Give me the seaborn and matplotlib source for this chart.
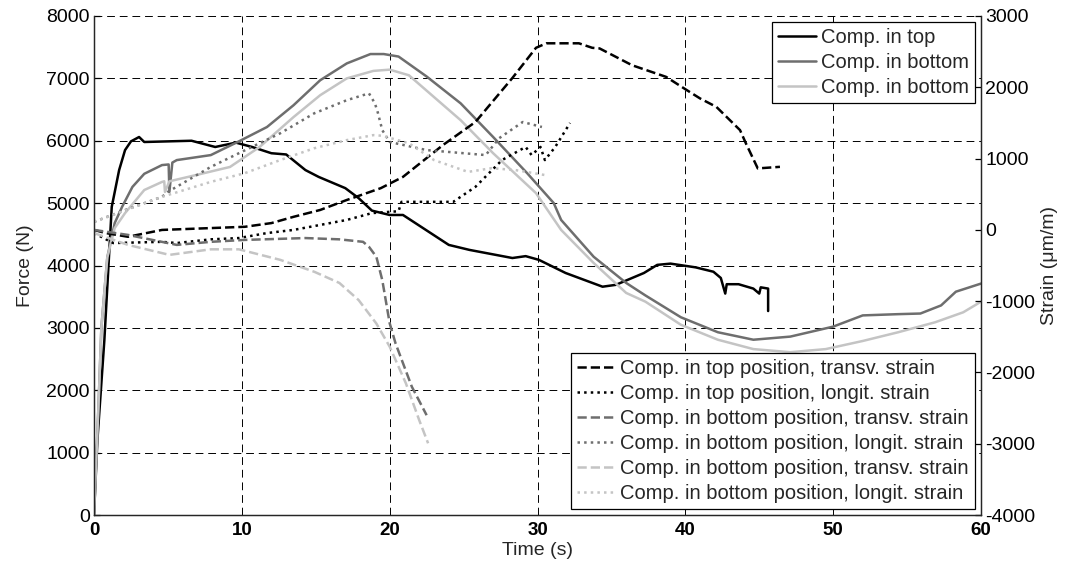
import matplotlib
matplotlib.use("Agg")
import matplotlib.pyplot as plt
import seaborn as sns

# Force curves (left axis, N)
t_top = [0, 0.23, 0.7, 1.2, 1.7, 2.1, 2.5, 3.05, 3.4, 5, 6.6, 8.2, 9.6, 10.7, 12, 13, 14.3, 15.2, 17,
         17.9, 18.8, 20, 20.9, 24, 25.4, 28.3, 29.2, 30.1, 31.9, 34.4, 35.3, 37.2, 38.1, 39, 40.7, 41.9,
         42.4, 42.7, 42.8, 43.6, 44.6, 45, 45.1, 45.6, 45.6]
force_top = [0, 1200, 2800, 4940, 5530, 5850, 5990, 6060, 5980, 5990, 6000, 5900, 5970, 5900, 5800, 5780,
             5530, 5420, 5240, 5080, 4880, 4810, 4810, 4330, 4250, 4120, 4150, 4090, 3880, 3660, 3690, 3880,
             4010, 4030, 3970, 3900, 3800, 3550, 3700, 3700, 3630, 3550, 3650, 3630, 3270]

t_bot1 = [0, 0.3, 0.5, 0.9, 1.4, 1.9, 2.6, 3.4, 4.6, 5.05, 5.1, 5.3, 5.6, 7.9, 9.8, 11.7, 13.5, 15.3, 17.1,
          18.7, 19.6, 20.6, 22.5, 24.8, 27, 29.3, 31.1, 31.6, 33.8, 36, 37.3, 39.7, 42.2, 44.6, 47.1, 50,
          52, 54.4, 55.9, 57.3, 58.3, 60]
force_bot1 = [0, 1730, 3010, 4130, 4680, 4940, 5260, 5470, 5610, 5620, 5180, 5650, 5690, 5770, 5990, 6220,
              6570, 6970, 7240, 7390, 7390, 7350, 7030, 6600, 6060, 5480, 5000, 4730, 4140, 3720, 3520,
              3170, 2930, 2810, 2860, 3020, 3200, 3220, 3230, 3360, 3580, 3710]

t_bot2 = [0, 0.3, 0.5, 0.9, 1.4, 2.1, 3.4, 4.6, 4.75, 4.8, 5.1, 6.9, 9.2, 11.2, 13.5, 15.3, 17.1, 18.9, 20,
          21.3, 24.8, 27, 29.9, 31.6, 33.8, 36, 37.3, 39.7, 42.2, 44.6, 47.1, 49.5, 52, 54.4, 56.9, 58.8, 60]
force_bot2 = [0, 1730, 3010, 4130, 4600, 4840, 5210, 5340, 5350, 5180, 5350, 5450, 5580, 5900, 6380, 6730,
              7000, 7120, 7140, 7050, 6330, 5800, 5160, 4570, 4040, 3560, 3420, 3050, 2810, 2660, 2610,
              2660, 2790, 2930, 3090, 3250, 3420]

# Strain curves (right axis, um/m)
t_top_tr = [0, 0.8, 2.3, 4.6, 7.9, 10.2, 12, 13.5, 15.3, 17.1, 18.2, 19.4, 20.9, 23.6, 25.8, 28.3, 29.9,
            30.6, 32.8, 33.7, 34.2, 36.4, 38.7, 40.1, 41, 42.1, 43.7, 44.1, 44.9, 46.4]
strain_top_tr = [-1, -45, -97, -1, 25, 43, 95, 183, 279, 419, 498, 585, 743, 1189, 1513, 2130, 2554, 2617,
                 2617, 2554, 2545, 2309, 2146, 1960, 1843, 1725, 1399, 1212, 862, 884]

t_top_lo = [0, 1.3, 4.6, 5.6, 7.9, 9.8, 11.7, 13.5, 15.3, 17.1, 18.8, 20, 20.6, 20.8, 24.3, 25.8, 27.6,
            29.2, 29.6, 30.2, 30.5, 31.2, 32.2]
strain_top_lo = [-45, -185, -168, -185, -133, -115, -45, -1, 69, 139, 235, 253, 261, 393, 393, 603, 979,
                 1163, 1049, 1163, 979, 1163, 1499]

t_bot1_tr = [0, 2.3, 5.6, 7.9, 10.2, 14.3, 16.6, 18.2, 18.6, 19.1, 19.5, 20, 20.4, 21.5, 22.5]
strain_bot1_tr = [-1, -71, -211, -168, -141, -115, -133, -168, -238, -378, -705, -1309, -1594, -2201, -2600]

t_bot1_lo = [0, 2, 4.6, 5, 7.9, 9.8, 12.6, 14.9, 17.1, 18.6, 19, 19.2, 19.5, 20, 22.5, 26.5, 27.4, 29, 30.3]
strain_bot1_lo = [112, 270, 463, 533, 883, 1075, 1355, 1635, 1819, 1915, 1775, 1644, 1399, 1233, 1119,
                  1049, 1285, 1513, 1443]

t_bot2_tr = [0, 2.3, 5.1, 7.9, 9.8, 12.6, 14.9, 16.6, 17.9, 19.1, 20, 21.1, 22, 22.6]
strain_bot2_tr = [-45, -211, -351, -273, -273, -421, -588, -745, -985, -1314, -1638, -2154, -2670, -2994]

t_bot2_lo = [0, 4.6, 7.9, 10.2, 12.6, 14.9, 17.1, 18.9, 19.5, 21.3, 23, 25.3, 26.9, 28.5, 30.5]
strain_bot2_lo = [112, 463, 673, 795, 979, 1145, 1259, 1329, 1320, 1215, 979, 813, 865, 839, 769]

force_labels = ["Comp. in top", "Comp. in bottom", "Comp. in bottom"]
strain_labels = ["Comp. in top position, transv. strain", "Comp. in top position, longit. strain",
                 "Comp. in bottom position, transv. strain", "Comp. in bottom position, longit. strain",
                 "Comp. in bottom position, transv. strain", "Comp. in bottom position, longit. strain"]

sns.set_style("white")
plt.rcParams["font.family"] = ["Liberation Sans", "DejaVu Sans"]
plt.rcParams["axes.unicode_minus"] = False

BLACK, DARK, LIGHT = "#000000", "#6e6e6e", "#c4c4c4"

fig = plt.figure(figsize=(10.69, 5.65), dpi=100)
ax = fig.add_axes([94 / 1069, 1 - 515 / 565, (981 - 94) / 1069, (515 - 16) / 565])
ax2 = ax.twinx()

force_sets = [(t_top, force_top, BLACK), (t_bot1, force_bot1, DARK), (t_bot2, force_bot2, LIGHT)]
force_handles = []
for (tt, ff, col) in force_sets:
    sns.lineplot(x=tt, y=ff, ax=ax, color=col, lw=1.8, estimator=None, sort=False)
    force_handles.append(ax.lines[-1])

strain_sets = [(t_top_tr, strain_top_tr, BLACK, "--"), (t_top_lo, strain_top_lo, BLACK, ":"),
               (t_bot1_tr, strain_bot1_tr, DARK, "--"), (t_bot1_lo, strain_bot1_lo, DARK, ":"),
               (t_bot2_tr, strain_bot2_tr, LIGHT, "--"), (t_bot2_lo, strain_bot2_lo, LIGHT, ":")]
strain_handles = []
for (tt, ss, col, ls) in strain_sets:
    sns.lineplot(x=tt, y=ss, ax=ax2, color=col, lw=1.8, linestyle=ls, estimator=None, sort=False)
    strain_handles.append(ax2.lines[-1])

ax.set_xlim(0, 60)
ax.set_ylim(0, 8000)
ax2.set_ylim(-4000, 3000)
ax.set_xticks(range(0, 61, 10))
ax.set_yticks(range(0, 8001, 1000))
ax2.set_yticks(range(-4000, 3001, 1000))

ax.grid(True, color="black", lw=0.7, linestyle=(0, (8, 5)))
ax.set_axisbelow(True)

for a in (ax, ax2):
    a.spines["top"].set_visible(False)
    for s in a.spines.values():
        s.set_linewidth(0.9)
    a.tick_params(direction="in", length=4, width=0.9, labelsize=14, colors="black", pad=3)
ax.tick_params(axis="x", pad=5, labelsize=13.5)

for lbl in ax.get_xticklabels():
    lbl.set_fontweight("bold")

ax.set_xlabel("Time (s)", fontsize=14, labelpad=2)
ax.set_ylabel("Force (N)", fontsize=14, labelpad=9)
ax2.set_ylabel("Strain (\u03bcm/m)", fontsize=14, labelpad=4)

leg_kw = dict(fontsize=14.5, frameon=True, fancybox=False, edgecolor="black", framealpha=1,
              borderaxespad=0.3, handlelength=1.9, handletextpad=0.25, labelspacing=0.3, borderpad=0.3)
leg1 = ax2.legend(force_handles, force_labels, loc="upper right", **leg_kw)
leg1.get_frame().set_linewidth(0.9)
ax2.add_artist(leg1)
leg2 = ax2.legend(strain_handles, strain_labels, loc="lower right", **leg_kw)
leg2.get_frame().set_linewidth(0.9)

fig.savefig("out.png", dpi=100)
